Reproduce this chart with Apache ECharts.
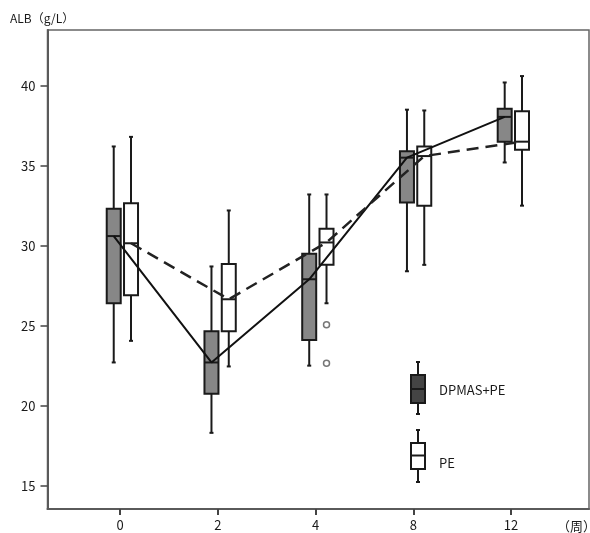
<!DOCTYPE html>
<html>
<head>
<meta charset="utf-8">
<script src="https://cdn.jsdelivr.net/npm/echarts@6/dist/echarts.min.js"></script>
<style>html,body{margin:0;padding:0;background:#fff;}#c{width:590px;height:533px;}</style>
</head>
<body>
<div id="c"></div>
<script>
// Categories (weeks)
const weeks = ['0', '2', '4', '8', '12'];
// Box statistics [min, Q1, median, Q3, max]
const dpmasBox = [
  [22.7, 26.4, 30.6, 32.3, 36.2],
  [18.3, 20.75, 22.7, 24.65, 28.7],
  [22.5, 24.1, 27.9, 29.5, 33.2],
  [28.4, 32.7, 35.5, 35.9, 38.5],
  [35.2, 36.5, 38.05, 38.55, 40.2]
];
const peBox = [
  [24.05, 26.9, 30.15, 32.65, 36.8],
  [22.45, 24.65, 26.65, 28.85, 32.2],
  [26.4, 28.8, 30.2, 31.05, 33.2],
  [28.8, 32.5, 35.6, 36.2, 38.45],
  [32.5, 36.0, 36.5, 38.4, 40.6]
];
// Outliers [category index, value]
const peOutliers = [[2, 25.05], [2, 22.65]];
const yTicks = [15, 20, 25, 30, 35, 40];

const FONT = '"Noto Sans CJK SC", "Noto Sans", sans-serif';
const GRAY_OFF = -6.3, PE_OFF = 11;   // px offsets of the two boxes from the tick
const PX_PER_CAT = 97.75;

function boxRender(offset, fill) {
  return function (params, api) {
    const idx = api.value(0);
    const cx = api.coord([idx, 0])[0] + offset;
    const yMin = api.coord([idx, api.value(1)])[1];
    const yQ1 = api.coord([idx, api.value(2)])[1];
    const yMed = api.coord([idx, api.value(3)])[1];
    const yQ3 = api.coord([idx, api.value(4)])[1];
    const yMax = api.coord([idx, api.value(5)])[1];
    const hw = 7, cap = 2;
    const ls = {stroke: '#1a1a1a', lineWidth: 2};
    return {
      type: 'group',
      children: [
        {type: 'line', shape: {x1: cx, y1: yMax, x2: cx, y2: yQ3}, style: ls},
        {type: 'line', shape: {x1: cx, y1: yQ1, x2: cx, y2: yMin}, style: ls},
        {type: 'line', shape: {x1: cx - cap, y1: yMax, x2: cx + cap, y2: yMax}, style: ls},
        {type: 'line', shape: {x1: cx - cap, y1: yMin, x2: cx + cap, y2: yMin}, style: ls},
        {type: 'rect', shape: {x: cx - hw, y: yQ3, width: hw * 2, height: yQ1 - yQ3},
          style: {fill: fill, stroke: '#1a1a1a', lineWidth: 2}},
        {type: 'line', shape: {x1: cx - hw, y1: yMed, x2: cx + hw, y2: yMed}, style: ls}
      ]
    };
  };
}

const dpData = dpmasBox.map((b, i) => [i].concat(b));
const peData = peBox.map((b, i) => [i].concat(b));
const dpLine = dpmasBox.map((b, i) => [i + GRAY_OFF / PX_PER_CAT, b[2]]);
const peLine = peBox.map((b, i) => [i + PE_OFF / PX_PER_CAT, b[2]]);
const outData = peOutliers.map(o => [o[0] + PE_OFF / PX_PER_CAT, o[1]]);

const chart = echarts.init(document.getElementById('c'), null, {renderer: 'canvas'});
chart.setOption({
  animation: false,
  backgroundColor: '#fff',
  grid: {left: 47.5, top: 30, right: 1, bottom: 24, show: true, borderColor: '#666', borderWidth: 1.5, backgroundColor: 'transparent'},
  xAxis: {
    type: 'value', min: -0.742, max: 4.798, interval: 1,
    splitLine: {show: false},
    axisLine: {show: true, onZero: false, lineStyle: {color: '#5a5a5a', width: 2}},
    axisTick: {show: true, length: 6, lineStyle: {color: '#444', width: 2},
      customValues: [0, 1, 2, 3, 4]},
    axisLabel: {
      color: '#1a1a1a', fontSize: 13, fontFamily: FONT, margin: 10,
      customValues: [0, 1, 2, 3, 4],
      formatter: v => weeks[Math.round(v)] !== undefined && Math.abs(v - Math.round(v)) < 1e-6 ? weeks[Math.round(v)] : ''
    }
  },
  yAxis: {
    type: 'value', min: 13.54, max: 43.48,
    splitLine: {show: false},
    axisLine: {show: true, onZero: false, lineStyle: {color: '#5a5a5a', width: 2}},
    axisTick: {show: true, length: 7, lineStyle: {color: '#444', width: 1.5}, customValues: yTicks},
    axisLabel: {color: '#1a1a1a', fontSize: 13, fontFamily: FONT, margin: 12, customValues: yTicks}
  },
  series: [
    {type: 'custom', name: 'DPMAS+PE', renderItem: boxRender(GRAY_OFF, '#878787'), data: dpData,
      encode: {x: 0, y: [1, 2, 3, 4, 5]}, z: 2},
    {type: 'custom', name: 'PE', renderItem: boxRender(PE_OFF, '#ffffff'), data: peData,
      encode: {x: 0, y: [1, 2, 3, 4, 5]}, z: 2},
    {type: 'line', data: dpLine, symbol: 'none', z: 5,
      lineStyle: {color: '#111', width: 2, type: 'solid'}},
    {type: 'line', data: peLine, symbol: 'none', z: 5,
      lineStyle: {color: '#222', width: 2.5, type: [12, 7]}},
    {type: 'scatter', data: outData, symbol: 'circle', symbolSize: 6, z: 4,
      itemStyle: {color: '#fff', borderColor: '#555', borderWidth: 1.5}}
  ],
  graphic: [
    {type: 'text', left: 10, top: 12, style: {text: 'ALB（g/L）', fontSize: 12, fontFamily: FONT, fill: '#1a1a1a'}},
    {type: 'text', x: 557, y: 526, style: {text: '（周）', fontSize: 13, fontFamily: FONT, fill: '#1a1a1a', textVerticalAlign: 'middle'}},
    // legend DPMAS+PE
    {type: 'line', shape: {x1: 418, y1: 362, x2: 418, y2: 414}, style: {stroke: '#1a1a1a', lineWidth: 2}},
    {type: 'line', shape: {x1: 416, y1: 362, x2: 420, y2: 362}, style: {stroke: '#1a1a1a', lineWidth: 2}},
    {type: 'line', shape: {x1: 416, y1: 414, x2: 420, y2: 414}, style: {stroke: '#1a1a1a', lineWidth: 2}},
    {type: 'rect', shape: {x: 411, y: 375, width: 14, height: 28}, style: {fill: '#444', stroke: '#1a1a1a', lineWidth: 2}},
    {type: 'line', shape: {x1: 411, y1: 389, x2: 425, y2: 389}, style: {stroke: '#1a1a1a', lineWidth: 2}},
    {type: 'text', x: 439, y: 390, style: {text: 'DPMAS+PE', fontSize: 13, fontFamily: FONT, fill: '#1a1a1a', textVerticalAlign: 'middle'}},
    // legend PE
    {type: 'line', shape: {x1: 418, y1: 430, x2: 418, y2: 482}, style: {stroke: '#1a1a1a', lineWidth: 2}},
    {type: 'line', shape: {x1: 416, y1: 430, x2: 420, y2: 430}, style: {stroke: '#1a1a1a', lineWidth: 2}},
    {type: 'line', shape: {x1: 416, y1: 482, x2: 420, y2: 482}, style: {stroke: '#1a1a1a', lineWidth: 2}},
    {type: 'rect', shape: {x: 411, y: 443, width: 14, height: 26}, style: {fill: '#fff', stroke: '#1a1a1a', lineWidth: 2}},
    {type: 'line', shape: {x1: 411, y1: 455.5, x2: 425, y2: 455.5}, style: {stroke: '#1a1a1a', lineWidth: 2}},
    {type: 'text', x: 439, y: 463, style: {text: 'PE', fontSize: 13, fontFamily: FONT, fill: '#1a1a1a', textVerticalAlign: 'middle'}}
  ]
});
</script>
</body>
</html>
